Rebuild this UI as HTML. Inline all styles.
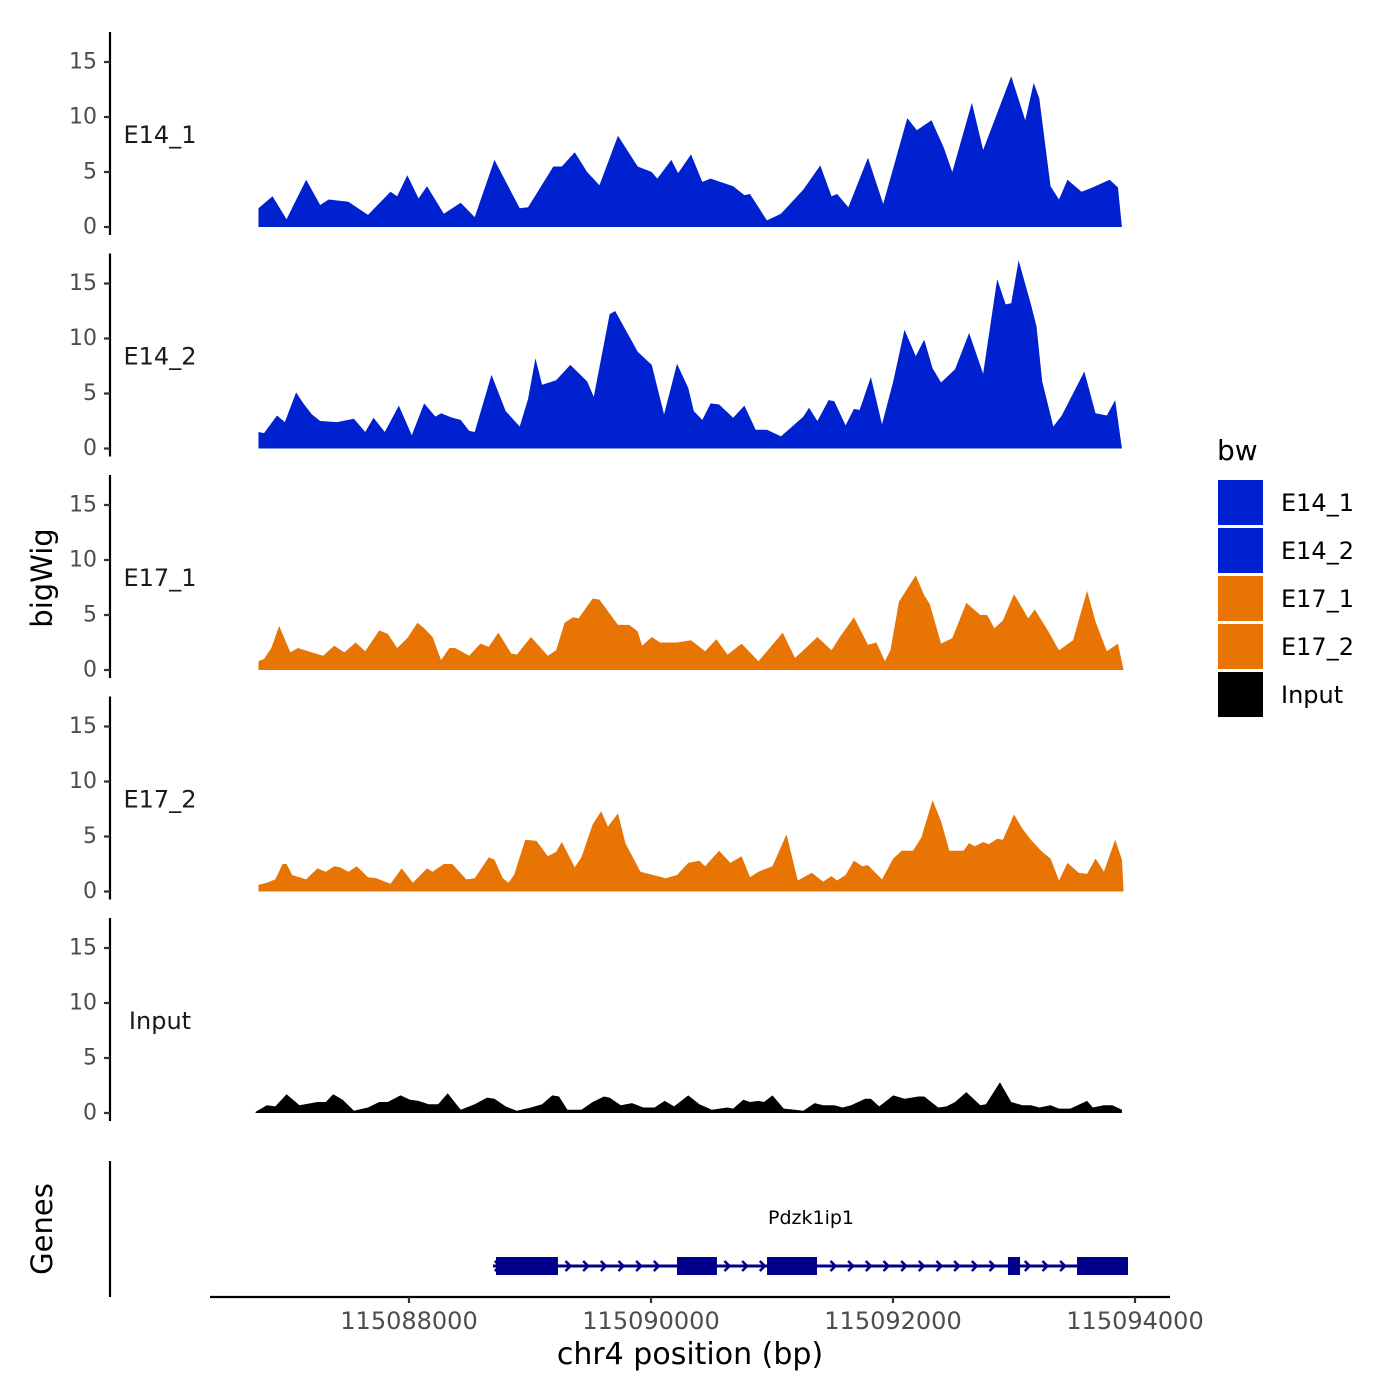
<!DOCTYPE html>
<html><head><meta charset="utf-8"><title>bigWig tracks</title>
<style>
html,body{margin:0;padding:0;background:#fff;}
svg{display:block;font-family:"DejaVu Sans","Liberation Sans",sans-serif;}
</style></head>
<body>
<svg id="chart" width="1400" height="1400" viewBox="0 0 1400 1400">
  <g id="tracks"></g>
  <g id="genes"></g>
  <g id="xaxis"></g>
  <text x="42" y="578" transform="rotate(-90 42 578)" text-anchor="middle" dominant-baseline="central" font-size="29" fill="#000">bigWig</text>
  <text x="42" y="1229" transform="rotate(-90 42 1229)" text-anchor="middle" dominant-baseline="central" font-size="29" fill="#000">Genes</text>
  <text x="690" y="1364" text-anchor="middle" font-size="30" fill="#000">chr4 position (bp)</text>
  <g id="legend">
    <text x="1217" y="460" font-size="28" fill="#000">bw</text>
  </g>
</svg>
<script>
// ---- data ----
const regionStart = 115086686;
const trackNames = ["E14_1", "E14_2", "E17_1", "E17_2", "Input"];
const trackColors = ["#0021CF", "#0021CF", "#E87503", "#E87503", "#000000"];
const yTicks = [0, 5, 10, 15];
const xTicks = [115088000, 115090000, 115092000, 115094000];

const e14_1Offsets = [70,186,302,464,580,650,813,975,1161,1216,1300,1393,1463,1602,1741,1857,2020,2229,2298,2507,2577,2684,2786,2888,3041,3204,3320,3366,3482,3538,3645,3738,3807,3993,4086,4132,4272,4388,4573,4713,4806,4852,4945,5107,5233,5432,5511,5632,5734,5804,5966,6059,6291,6407,6477,6523,6616,6686,6756,6872,6965,7104,7173,7206];
const e14_1Values = [1.7,2.8,0.7,4.3,2.0,2.5,2.3,1.1,3.2,2.8,4.7,2.6,3.7,1.2,2.2,0.9,6.1,1.7,1.8,5.5,5.5,6.8,5.0,3.8,8.3,5.5,5.0,4.4,6.1,4.9,6.6,4.1,4.4,3.7,2.9,3.0,0.6,1.2,3.4,5.6,2.8,3.0,1.8,6.3,2.1,9.9,8.8,9.7,7.2,5.0,11.3,7.0,13.7,9.7,13.1,11.7,3.7,2.5,4.3,3.2,3.6,4.3,3.6,0];

const e14_2Offsets = [70,116,223,288,381,441,511,580,720,859,952,1021,1114,1230,1337,1439,1532,1579,1671,1741,1811,1857,1996,2113,2229,2298,2359,2414,2530,2647,2786,2841,2972,3018,3088,3204,3320,3422,3529,3622,3668,3738,3807,3877,3993,4086,4179,4272,4388,4573,4620,4689,4782,4829,4922,4991,5038,5131,5223,5316,5409,5502,5572,5641,5711,5827,5943,6059,6175,6245,6291,6352,6454,6500,6547,6639,6709,6895,6988,7081,7150,7206];
const e14_2Values = [1.5,1.4,3.0,2.4,5.1,4.1,3.1,2.5,2.4,2.7,1.5,2.8,1.5,3.9,1.2,4.1,2.9,3.2,2.8,2.6,1.6,1.5,6.7,3.4,2.0,4.5,8.2,5.8,6.2,7.6,6.1,4.7,12.2,12.5,11.1,8.8,7.6,3.1,7.7,5.5,3.4,2.6,4.1,4.0,2.8,3.9,1.7,1.7,1.1,2.9,3.7,2.5,4.4,4.3,2.1,3.6,3.5,6.5,2.2,6.1,10.8,8.4,9.9,7.3,6.0,7.2,10.5,6.8,15.4,13.1,13.2,17.1,13.1,11.1,6.1,2.0,3.0,7.0,3.2,3.0,4.4,0];

const e17_1Offsets = [70,116,176,241,334,395,511,604,696,780,873,952,1068,1138,1216,1300,1384,1439,1509,1579,1648,1695,1811,1904,1973,2052,2159,2205,2322,2461,2530,2600,2670,2716,2832,2888,2948,3041,3134,3204,3241,3320,3389,3529,3645,3761,3854,3947,4063,4202,4295,4402,4504,4573,4689,4806,4875,4991,5107,5177,5247,5293,5363,5502,5572,5618,5711,5804,5920,6036,6092,6152,6222,6314,6431,6486,6593,6686,6802,6918,6988,7081,7173,7220];
const e17_1Values = [0.8,1.0,2.0,4.0,1.6,2.0,1.6,1.3,2.2,1.6,2.5,1.7,3.6,3.3,2.0,2.9,4.3,3.8,3.0,0.9,2.0,2.0,1.3,2.4,2.1,3.4,1.5,1.4,3.0,1.3,1.8,4.3,4.8,4.7,6.5,6.4,5.5,4.1,4.1,3.5,2.2,3.0,2.5,2.5,2.7,1.7,2.8,1.4,2.4,0.8,2.0,3.4,1.1,1.8,3.0,1.8,3.0,4.8,2.3,2.5,0.8,1.8,6.2,8.6,6.8,6.0,2.4,2.9,6.1,5.0,5.0,3.8,4.5,6.9,4.7,5.5,3.6,1.8,2.7,7.2,4.4,1.7,2.4,0];

const e17_2Offsets = [70,139,209,269,302,348,464,557,627,696,743,813,882,975,1045,1161,1254,1346,1463,1509,1602,1671,1788,1857,1973,2020,2089,2136,2182,2275,2368,2461,2530,2577,2684,2739,2832,2902,2958,3041,3102,3227,3297,3436,3529,3622,3714,3761,3877,3970,4063,4132,4202,4318,4434,4527,4643,4736,4806,4852,4922,4991,5061,5107,5223,5316,5386,5479,5548,5641,5711,5780,5897,5943,5989,6059,6105,6175,6222,6314,6384,6454,6547,6616,6686,6756,6848,6918,6988,7057,7150,7206,7220];
const e17_2Values = [0.6,0.8,1.1,2.5,2.5,1.5,1.1,2.1,1.8,2.3,2.2,1.8,2.3,1.3,1.2,0.7,2.1,0.8,2.1,1.8,2.5,2.5,1.1,1.2,3.1,2.9,1.2,0.8,1.5,4.7,4.6,3.2,3.6,4.5,2.2,3.1,6.1,7.3,5.9,7.1,4.4,1.8,1.6,1.2,1.5,2.6,2.8,2.3,3.7,2.6,3.2,1.3,1.8,2.3,5.2,1.0,1.7,0.9,1.4,1.0,1.5,2.8,2.3,2.4,1.1,3.0,3.7,3.7,4.9,8.3,6.4,3.7,3.7,4.4,4.1,4.5,4.3,4.8,4.7,7.0,5.7,4.7,3.6,3.0,1.0,2.6,1.7,1.6,3.0,1.8,4.7,2.9,0];

const inputOffsets = [46,139,209,302,409,557,627,687,766,859,975,1068,1138,1244,1323,1393,1476,1555,1634,1741,1857,1959,2020,2113,2205,2322,2414,2498,2554,2623,2739,2832,2925,2972,3064,3157,3250,3343,3427,3505,3622,3714,3817,3947,3993,4077,4132,4202,4248,4318,4411,4504,4573,4666,4736,4829,4898,4968,5084,5131,5200,5316,5409,5525,5572,5688,5757,5827,5920,6036,6082,6198,6291,6384,6454,6523,6616,6686,6779,6918,6965,7057,7127,7206];
const inputValues = [0.1,0.7,0.6,1.7,0.7,1.0,1.0,1.7,1.2,0.2,0.5,1.0,1.0,1.6,1.2,1.1,0.8,0.8,1.8,0.3,0.8,1.4,1.3,0.6,0.2,0.5,0.8,1.6,1.5,0.3,0.3,1.0,1.5,1.4,0.7,0.9,0.5,0.5,1.1,0.6,1.6,0.8,0.3,0.5,0.4,1.2,1.0,1.1,1.0,1.6,0.4,0.3,0.2,0.9,0.7,0.7,0.5,0.7,1.3,1.3,0.6,1.6,1.3,1.5,1.5,0.5,0.6,1.0,1.9,0.7,0.8,2.8,1.0,0.7,0.7,0.5,0.7,0.4,0.4,1.1,0.5,0.7,0.7,0.3];

const geneName = "Pdzk1ip1";
const geneStart = 115088694;
const geneEnd = 115093942;
const exonStarts = [115088719, 115090215, 115090959, 115092950, 115093521];
const exonEnds   = [115089231, 115090545, 115091372, 115093050, 115093942];

// ---- scales ----
const NS = "http://www.w3.org/2000/svg";
function xScale(bp){ return 409 + (bp - 115088000) * 0.121; }
const panelZero = [227, 448.5, 670, 891.5, 1113];
const unitPx = 11;
function yScale(panel, v){ return panelZero[panel] - v * unitPx; }
function mk(tag, attrs, parent){
  const el = document.createElementNS(NS, tag);
  for (const k in attrs) el.setAttribute(k, attrs[k]);
  parent.appendChild(el);
  return el;
}

const offsetsList = [e14_1Offsets, e14_2Offsets, e17_1Offsets, e17_2Offsets, inputOffsets];
const valuesList = [e14_1Values, e14_2Values, e17_1Values, e17_2Values, inputValues];
const tracksG = document.getElementById('tracks');

for (let p = 0; p < trackNames.length; p++) {
  const g = mk('g', {}, tracksG);
  
  
  const z = panelZero[p];
  const ax = mk('line', {x1:110, x2:110, y1:z-195, y2:z+8, stroke:'#000', 'stroke-width':2.2}, g);
  
  
  yTicks.forEach(t => {
    const y = yScale(p, t);
    const tk = mk('line', {x1:104, x2:110, y1:y, y2:y, stroke:'#333', 'stroke-width':2.2}, g);
    
    
    const tl = mk('text', {x:97, y:y, 'text-anchor':'end', 'dominant-baseline':'central', 'font-size':22, fill:'#4d4d4d'}, g);
    tl.textContent = t;
    
    
  });
  const lb = mk('text', {x:160, y:z - 92, 'text-anchor':'middle', 'dominant-baseline':'central', 'font-size':24, fill:'#1a1a1a'}, g);
  lb.textContent = trackNames[p];
  
  
  const offs = offsetsList[p], vals = valuesList[p];
  let d = 'M' + xScale(regionStart + offs[0]).toFixed(2) + ',' + z;
  for (let i = 0; i < offs.length; i++) {
    d += 'L' + xScale(regionStart + offs[i]).toFixed(2) + ',' + yScale(p, vals[i]).toFixed(2);
  }
  d += 'L' + xScale(regionStart + offs[offs.length-1]).toFixed(2) + ',' + z + 'Z';
  const area = mk('path', {d:d, fill:trackColors[p], 'stroke-linejoin':'round'}, g);
  
  
}

// ---- gene track ----
const genesG = document.getElementById('genes');
const gl = mk('line', {x1:110, x2:110, y1:1161, y2:1297, stroke:'#000', 'stroke-width':2.2}, genesG);


const gy = 1266;
const gline = mk('line', {x1:xScale(geneStart), x2:xScale(geneEnd), y1:gy, y2:gy, stroke:'#00008B', 'stroke-width':3}, genesG);


for (let bp = geneStart + 40; bp < geneEnd; bp += 146) {
  let inside = false;
  for (let i = 0; i < exonStarts.length; i++) if (bp > exonStarts[i] - 30 && bp < exonEnds[i] + 30) inside = true;
  if (inside && bp > geneStart + 60) continue;
  const x = xScale(bp);
  const ch = mk('path', {d:'M'+(x-3)+','+(gy-5)+'L'+(x+2)+','+gy+'L'+(x-3)+','+(gy+5), fill:'none', stroke:'#00008B', 'stroke-width':2.5}, genesG);
  
  
}
for (let i = 0; i < exonStarts.length; i++) {
  const x1 = xScale(exonStarts[i]), x2 = xScale(exonEnds[i]);
  const ex = mk('rect', {x:x1, y:gy-9, width:x2-x1, height:18, fill:'#00008B'}, genesG);
  
  
}
const gn = mk('text', {x:811, y:1218, 'text-anchor':'middle', 'dominant-baseline':'central', 'font-size':19, fill:'#000'}, genesG);
gn.textContent = geneName;



// ---- x axis ----
const xg = document.getElementById('xaxis');
const xl = mk('line', {x1:210, x2:1170, y1:1297, y2:1297, stroke:'#000', 'stroke-width':2.2}, xg);


xTicks.forEach(t => {
  const x = xScale(t);
  const tk = mk('line', {x1:x, x2:x, y1:1297, y2:1303, stroke:'#333', 'stroke-width':2.2}, xg);
  
  
  const tl = mk('text', {x:x, y:1329, 'text-anchor':'middle', 'font-size':24, fill:'#4d4d4d'}, xg);
  tl.textContent = t;
  
  
});

// ---- legend ----
const lg = document.getElementById('legend');
trackNames.forEach((n, i) => {
  const y = 480 + i * 48;
  const r = mk('rect', {x:1218, y:y, width:45, height:45, fill:trackColors[i]}, lg);
  
  
  const t = mk('text', {x:1281, y:y+23, 'dominant-baseline':'central', 'font-size':24, fill:'#000'}, lg);
  t.textContent = n;
  
  
});
</script>
</body></html>
